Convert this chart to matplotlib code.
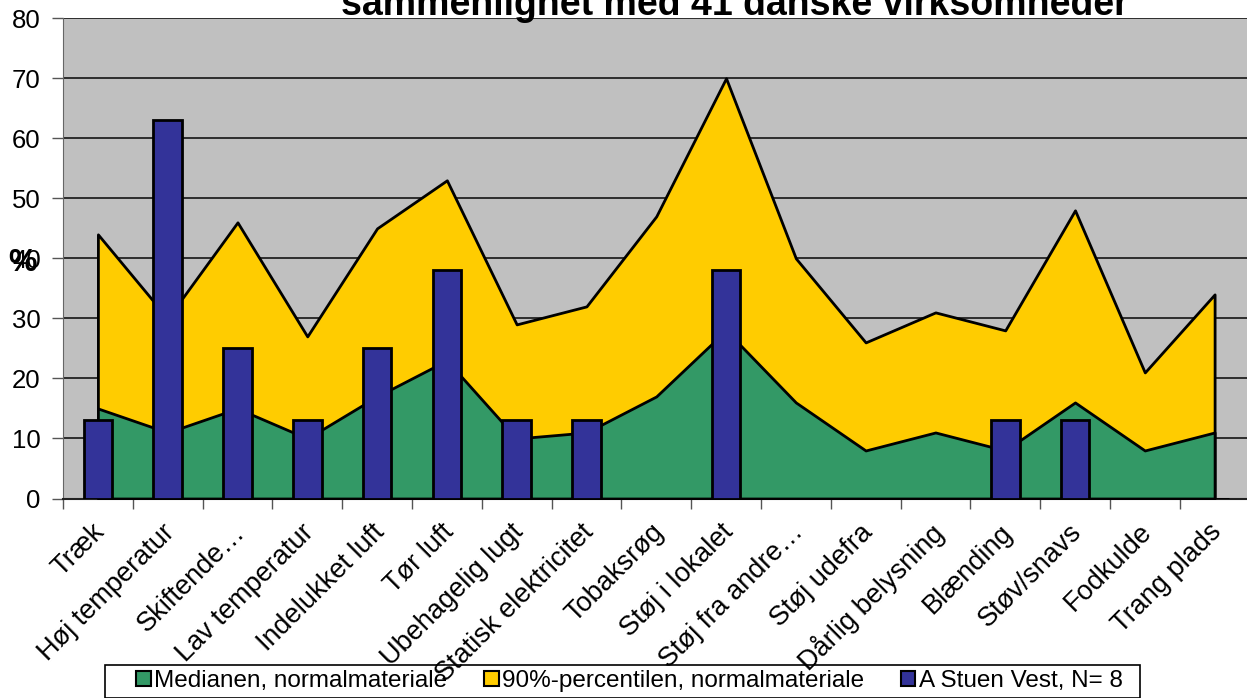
import matplotlib
matplotlib.use("Agg")
import matplotlib.pyplot as plt
from matplotlib.patches import Patch, Rectangle
import matplotlib.transforms as mtransforms
import numpy as np

plt.rcParams['font.family'] = ['Liberation Sans', 'DejaVu Sans']

# Data
categories = ["Træk", "Høj temperatur", "Skiftende…", "Lav temperatur",
              "Indelukket luft", "Tør luft", "Ubehagelig lugt",
              "Statisk elektricitet", "Tobaksrøg", "Støj i lokalet",
              "Støj fra andre…", "Støj udefra", "Dårlig belysning",
              "Blænding", "Støv/snavs", "Fodkulde", "Trang plads"]
median = [15, 11, 15, 10, 17, 23, 10, 11, 17, 28, 16, 8, 11, 8, 16, 8, 11]
pct90 = [44, 30, 46, 27, 45, 53, 29, 32, 47, 70, 40, 26, 31, 28, 48, 21, 34]
stuen_vest = [13, 63, 25, 13, 25, 38, 13, 13, 0, 38, 0, 0, 0, 13, 13, 0, 0]

title = "sammenlignet med 41 danske virksomheder"
labels = ["Medianen, normalmateriale", "90%-percentilen, normalmateriale",
          "A Stuen Vest, N= 8"]

c_green = "#339966"
c_yellow = "#FFCC00"
c_blue = "#333399"
c_bg = "#C0C0C0"

W, H = 1247, 698
fig = plt.figure(figsize=(W / 100, H / 100), dpi=100)
ax = fig.add_axes([63 / W, 1 - 498.5 / H, 1186.5 / W, 480.3 / H])
ax.set_facecolor(c_bg)

x = np.arange(len(categories))

ax.fill_between(x, 0, pct90, facecolor=c_yellow, edgecolor="black", linewidth=2, zorder=2)
ax.fill_between(x, 0, median, facecolor=c_green, edgecolor="black", linewidth=2, zorder=3)
ax.bar(x, stuen_vest, width=0.41, color=c_blue, edgecolor="black", linewidth=2, zorder=4)

ax.set_xlim(-0.5, len(categories) - 0.5)
ax.set_ylim(0, 80)
ax.set_yticks(range(0, 81, 10))
ax.yaxis.grid(True, color="#222222", linewidth=1.3)
ax.set_axisbelow(True)

ax.set_xticks(x)
ax.set_xticklabels(categories, rotation=45, ha="right", va="top",
                   rotation_mode="anchor", fontsize=19.5)
ax.set_xticks(np.arange(-0.5, len(categories), 1), minor=True)
ax.tick_params(axis="x", which="major", length=0, pad=17)
ax.tick_params(axis="x", which="minor", length=7, width=1, color="#555555")
ax.tick_params(axis="y", length=8, width=1, color="#555555", labelsize=18.5, pad=8)

# nudge the rotated labels a little left/up
offset = mtransforms.ScaledTranslation(-6 / 100, 3 / 100, fig.dpi_scale_trans)
for lab in ax.get_xticklabels():
    lab.set_transform(lab.get_transform() + offset)

for s in ["top", "right"]:
    ax.spines[s].set_visible(False)
ax.spines["left"].set_color("#666666")
ax.spines["bottom"].set_color("#222222")
ax.spines["bottom"].set_linewidth(1.5)

fig.text(735 / W, 1 - 15 / H, title, ha="center", va="baseline",
         fontsize=27, fontweight="bold")
fig.text(22.5 / W, 1 - 263 / H, "%", ha="center", va="center",
         fontsize=23, fontweight="bold")

handles = [Patch(facecolor=c, edgecolor="black", linewidth=1.5)
           for c in (c_green, c_yellow, c_blue)]
fig.legend(handles, labels, loc="center", bbox_to_anchor=(629.5 / W, 1 - 681 / H),
           ncol=3, fontsize=17.5, frameon=False,
           handlelength=0.6, handleheight=0.6, handletextpad=0.15,
           columnspacing=1.5, borderpad=0, borderaxespad=0)
# legend frame
fig.patches.append(Rectangle((105 / W, 1 - 697.5 / H), 1035 / W, 32.5 / H,
                             transform=fig.transFigure, facecolor="none",
                             edgecolor="black", linewidth=1.2))

fig.savefig("out.png", dpi=100)
